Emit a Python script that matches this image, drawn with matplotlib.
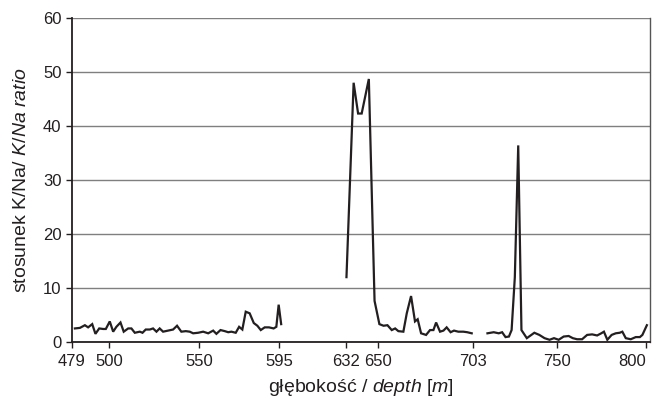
import matplotlib.pyplot as plt

# depth [m] / K/Na ratio, three sampled intervals
depth_1 = [480.7, 483.5, 486.3, 488.1, 490.4, 492.2, 494.3, 496.5, 498.0, 500.2,
           502.1, 503.9, 506.2, 508.0, 510.5, 512.3, 514.2, 517.0, 518.5, 520.3,
           522.6, 524.4, 526.3, 528.1, 530.0, 532.8, 535.6, 537.8, 540.2, 542.7,
           544.9, 546.8, 549.6, 552.4, 555.2, 558.0, 559.8, 562.1, 564.5, 566.4,
           568.2, 570.6, 572.5, 574.3, 576.2, 578.4, 580.7, 582.7, 584.6, 586.8,
           589.2, 591.8, 593.3, 594.6, 596.0]
ratio_1 = [2.5, 2.6, 3.1, 2.7, 3.3, 1.5, 2.5, 2.4, 2.4, 3.8,
           1.9, 2.8, 3.6, 1.9, 2.5, 2.5, 1.7, 1.9, 1.7, 2.3,
           2.3, 2.5, 1.9, 2.5, 1.9, 2.1, 2.3, 3.0, 1.9, 2.0,
           1.9, 1.6, 1.7, 1.9, 1.6, 2.1, 1.5, 2.2, 2.0, 1.8,
           1.9, 1.7, 2.8, 2.3, 5.6, 5.3, 3.5, 3.0, 2.2, 2.7,
           2.7, 2.5, 2.8, 6.9, 3.3]

depth_2 = [632.5, 636.5, 639.0, 641.0, 645.0, 648.2, 650.9, 653.2, 655.4, 657.8,
           659.7, 661.5, 664.3, 666.2, 668.6, 670.8, 672.3, 674.2, 677.0, 679.2,
           681.1, 682.6, 684.8, 686.7, 688.5, 690.7, 692.6, 695.0, 697.8, 700.0,
           702.5]
ratio_2 = [12.0, 48.0, 42.3, 42.3, 48.7, 7.6, 3.3, 3.0, 3.1, 2.2,
           2.5, 2.0, 1.9, 5.3, 8.5, 3.8, 4.2, 1.6, 1.3, 2.2,
           2.2, 3.6, 1.9, 2.1, 2.7, 1.8, 2.1, 1.9, 1.9, 1.8,
           1.6]

depth_3 = [711.3, 714.8, 717.6, 719.5, 721.4, 723.3, 724.8, 726.6, 728.5, 730.3,
           733.3, 737.5, 740.3, 743.2, 746.0, 748.5, 751.1, 753.9, 756.7, 759.0,
           761.4, 764.2, 767.0, 769.8, 772.6, 774.9, 776.4, 778.3, 780.7, 783.0,
           785.2, 786.7, 788.6, 791.4, 794.2, 796.5, 797.9, 800.4]
ratio_3 = [1.6, 1.8, 1.6, 1.8, 0.9, 1.0, 2.2, 12.0, 36.4, 2.2,
           0.7, 1.7, 1.3, 0.7, 0.4, 0.7, 0.4, 1.0, 1.1, 0.7,
           0.5, 0.5, 1.3, 1.4, 1.2, 1.6, 1.9, 0.4, 1.3, 1.6,
           1.7, 1.9, 0.7, 0.5, 0.9, 0.9, 1.3, 3.1]

x_ticks = [479, 500, 550, 595, 632, 650, 703, 750, 800]
y_ticks = [0, 10, 20, 30, 40, 50, 60]

plt.rcParams['font.family'] = 'Liberation Sans'
plt.rcParams['mathtext.fontset'] = 'custom'
plt.rcParams['mathtext.rm'] = 'Liberation Sans'
plt.rcParams['mathtext.it'] = 'Liberation Sans:italic'

text_col = '#231f20'
line_col = '#231f20'

fig = plt.figure(figsize=(6.53, 3.99), dpi=100)
ax = fig.add_axes([0.110, 0.143, 0.885, 0.812])

for d, r in [(depth_1, ratio_1), (depth_2, ratio_2), (depth_3, ratio_3)]:
    ax.plot(d, r, color=line_col, lw=1.6, solid_joinstyle='miter', zorder=3)

ax.set_xlim(479, 802)
ax.set_ylim(0, 60)
ax.set_xticks(x_ticks)
ax.set_yticks(y_ticks)
ax.tick_params(axis='both', direction='out', length=4.5, width=1, colors=text_col,
               labelsize=12)
ax.tick_params(axis='x', pad=4)
ax.tick_params(axis='y', pad=3)
# last label sits inside the figure, like the original
ax.get_xticklabels()[-1].set_horizontalalignment('right')
ax.get_xticklabels()[-1].set_x(801.5)

ax.yaxis.grid(True, color='#7f7f7f', lw=1)
ax.set_axisbelow(True)

ax.spines['left'].set_color(text_col)
ax.spines['left'].set_linewidth(1.3)
ax.spines['bottom'].set_color(text_col)
ax.spines['bottom'].set_linewidth(1.3)
ax.spines['right'].set_color('#555555')
ax.spines['right'].set_linewidth(1)
ax.spines['top'].set_visible(False)

ax.set_ylabel(r'stosunek K/Na/ $\it{K/Na\ ratio}$', fontsize=14, color=text_col, labelpad=9)
ax.set_xlabel(r'głębokość / $\it{depth\ [m]}$', fontsize=14, color=text_col, labelpad=6)

fig.savefig('out.png', dpi=100)
